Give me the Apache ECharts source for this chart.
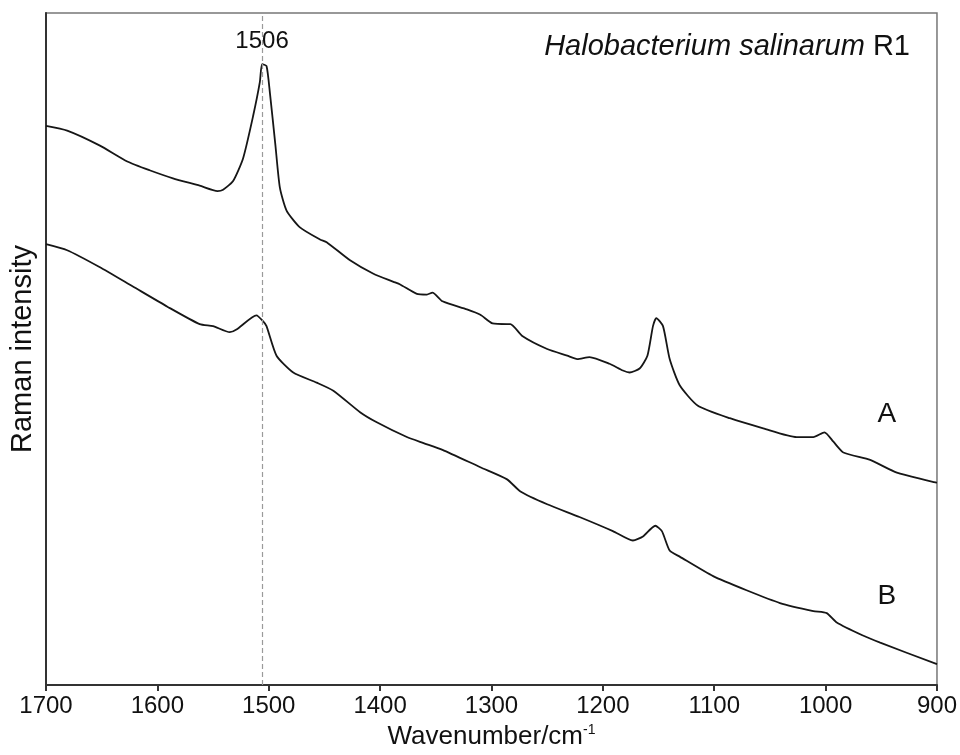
<!DOCTYPE html>
<html>
<head>
<meta charset="utf-8">
<script src="https://cdn.jsdelivr.net/npm/echarts@6/dist/echarts.min.js"></script>
<style>
  html, body { margin: 0; padding: 0; background: #fff; }
  #chart { width: 960px; height: 755px; }
</style>
</head>
<body>
<div id="chart"></div>
<script>
// spectrum A (upper trace), wavenumber / relative intensity
const waveA = [1700, 1681, 1652, 1627, 1607, 1586, 1562, 1546, 1541, 1532, 1523, 1514, 1508, 1506, 1502, 1499,
  1494, 1490, 1484, 1472, 1454, 1448, 1427, 1406, 1388, 1382, 1367, 1358, 1353, 1344, 1322, 1310, 1299, 1286,
  1283, 1272, 1250, 1232, 1223, 1212, 1194, 1182, 1176, 1167, 1160, 1155, 1152, 1146, 1140, 1131, 1115, 1086,
  1056, 1026, 1011, 1001, 993, 984, 960, 936, 900];
const intA = [83.2, 82.5, 80.3, 77.9, 76.6, 75.4, 74.3, 73.5, 73.7, 75.0, 78.4, 84.7, 89.7, 92.4, 92.1, 88.2,
  80.3, 74.0, 70.6, 68.1, 66.3, 65.9, 63.2, 61.2, 60.0, 59.6, 58.2, 58.1, 58.4, 57.1, 55.9, 55.1, 53.8, 53.7,
  53.7, 51.9, 50.0, 49.0, 48.5, 48.8, 47.8, 46.8, 46.5, 47.1, 49.0, 53.4, 54.6, 53.4, 48.5, 44.6, 41.6, 39.7,
  38.2, 36.9, 36.9, 37.6, 36.2, 34.6, 33.5, 31.6, 30.1];

// spectrum B (lower trace)
const waveB = [1700, 1681, 1652, 1622, 1591, 1562, 1550, 1535, 1529, 1511, 1505, 1502, 1493, 1478, 1457, 1442,
  1418, 1403, 1376, 1361, 1344, 1310, 1286, 1274, 1250, 1221, 1191, 1173, 1164, 1153, 1147, 1140, 1131, 1101,
  1071, 1041, 1011, 999, 990, 967, 951, 900];
const intB = [65.6, 64.7, 62.2, 59.3, 56.3, 53.7, 53.4, 52.5, 52.9, 55.0, 54.1, 53.4, 49.0, 46.5, 45.0, 43.8,
  40.6, 39.1, 36.9, 36.0, 35.0, 32.4, 30.6, 28.8, 26.9, 25.0, 22.9, 21.5, 22.1, 23.7, 22.9, 20.0, 19.1, 16.2,
  14.1, 12.2, 11.0, 10.7, 9.3, 7.4, 6.3, 3.1];

const peakMark = 1506;
const xTicks = [900, 1000, 1100, 1200, 1300, 1400, 1500, 1600, 1700];

const FONT = '"Liberation Sans", Arial, sans-serif';

function pairs(xs, ys) {
  let out = [];
  for (let i = 0; i < xs.length; i++) {
    out.push([xs[i], ys[i]]);
  }
  return out;
}

let chart = echarts.init(document.getElementById('chart'), null, { renderer: 'canvas' });

let option = {
  backgroundColor: '#ffffff',
  animation: false,
  title: {
    text: '{i|Halobacterium salinarum} R1',
    right: 50,
    top: 32,
    padding: 0,
    textStyle: {
      fontFamily: FONT,
      fontSize: 29,
      fontWeight: 'normal',
      color: '#111',
      rich: {
        i: { fontFamily: FONT, fontSize: 29, fontStyle: 'italic', color: '#111' }
      }
    }
  },
  grid: {
    left: 46,
    right: 23,
    top: 13,
    bottom: 62,
    show: true,
    borderColor: '#777',
    borderWidth: 1.5
  },
  xAxis: {
    type: 'value',
    min: 900,
    max: 1700,
    interval: 100,
    inverse: true,
    name: 'Wavenumber/cm{sup|-1}',
    nameLocation: 'middle',
    nameGap: 38,
    nameTextStyle: {
      fontFamily: FONT,
      fontSize: 26,
      color: '#111',
      rich: {
        sup: { fontFamily: FONT, fontSize: 14, color: '#111', padding: [0, 0, 14, 0] }
      }
    },
    axisLine: { show: true, lineStyle: { color: '#333', width: 2 } },
    axisTick: { show: true, inside: false, length: 6, lineStyle: { color: '#333', width: 2 } },
    axisLabel: {
      fontFamily: FONT,
      fontSize: 24,
      color: '#111',
      margin: 9,
      formatter: function (v) { return xTicks.indexOf(v) >= 0 ? String(v) : ''; }
    },
    splitLine: { show: false }
  },
  yAxis: {
    type: 'value',
    min: 0,
    max: 100,
    name: 'Raman intensity',
    nameLocation: 'middle',
    nameGap: 9,
    nameTextStyle: { fontFamily: FONT, fontSize: 29, color: '#111' },
    axisLine: { show: true, lineStyle: { color: '#333', width: 2 } },
    axisTick: { show: false },
    axisLabel: { show: false },
    splitLine: { show: false }
  },
  series: [{
    name: 'A',
    type: 'line',
    data: pairs(waveA, intA),
    symbol: 'none',
    smooth: 0.2,
    lineStyle: { color: '#161616', width: 1.8 },
    markLine: {
      silent: true,
      symbol: 'none',
      label: { show: false },
      lineStyle: { color: '#9a9a9a', type: [5, 3], width: 1.2 },
      data: [{ xAxis: peakMark }]
    },
    markPoint: {
      symbol: 'circle',
      symbolSize: 0,
      label: {
        show: true,
        position: 'inside',
        fontFamily: FONT,
        fontSize: 24,
        color: '#111'
      },
      data: [
        { coord: [peakMark, 95.8], value: '1506', label: { formatter: '1506' } },
        { coord: [945, 40.3], value: 'A', label: { formatter: 'A', fontSize: 28 } }
      ]
    }
  }, {
    name: 'B',
    type: 'line',
    data: pairs(waveB, intB),
    symbol: 'none',
    smooth: 0.2,
    lineStyle: { color: '#161616', width: 1.8 },
    markPoint: {
      symbol: 'circle',
      symbolSize: 0,
      label: {
        show: true,
        position: 'inside',
        fontFamily: FONT,
        fontSize: 28,
        color: '#111'
      },
      data: [
        { coord: [945, 13.2], value: 'B', label: { formatter: 'B' } }
      ]
    }
  }]
};

chart.setOption(option);
</script>
</body>
</html>
